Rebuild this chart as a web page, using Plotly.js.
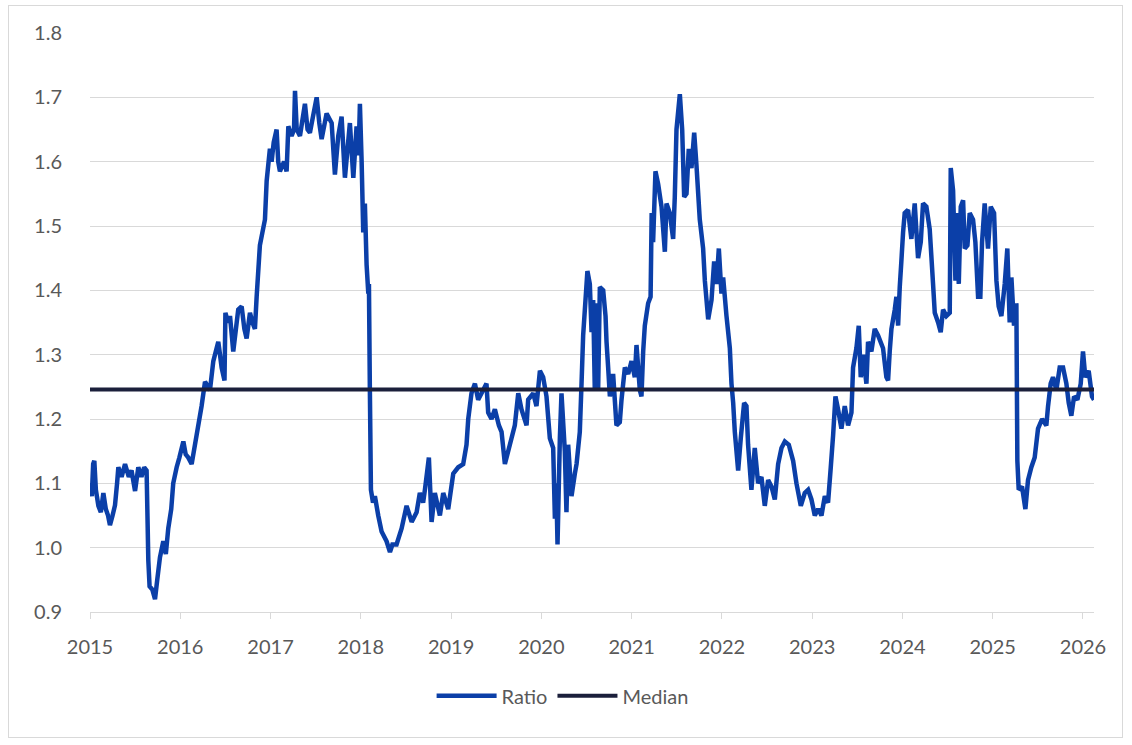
<!DOCTYPE html>
<html>
<head>
<meta charset="utf-8">
<script src="https://cdn.plot.ly/plotly-3.0.1.min.js"></script>
<style>
  html, body { margin: 0; padding: 0; background: #ffffff; }
  #wrap { position: relative; width: 1132px; height: 745px; }
  #chart { position: absolute; left: 0; top: 0; width: 1132px; height: 745px; }
  #frame { position: absolute; left: 8px; top: 5px; width: 1113px; height: 731px;
           border: 1px solid #d9d9d9; pointer-events: none; }
</style>
</head>
<body>
<div id="wrap"><div id="chart"></div><div id="frame"></div></div>
<script>
// Decimal-year dates of the readings
const dates = [
  2015.000, 2015.020, 2015.035, 2015.048, 2015.065, 2015.093, 2015.120, 2015.148, 2015.175, 2015.200,
  2015.221, 2015.250, 2015.277, 2015.300, 2015.314, 2015.350, 2015.388, 2015.430, 2015.460, 2015.499,
  2015.535, 2015.570, 2015.600, 2015.627, 2015.646, 2015.660, 2015.690, 2015.720, 2015.745, 2015.775,
  2015.812, 2015.840, 2015.867, 2015.900, 2015.922, 2015.960, 2015.990, 2016.034, 2016.060, 2016.089,
  2016.126, 2016.181, 2016.236, 2016.274, 2016.329, 2016.366, 2016.421, 2016.440, 2016.458, 2016.490,
  2016.500, 2016.530, 2016.551, 2016.587, 2016.625, 2016.642, 2016.680, 2016.710, 2016.735, 2016.772,
  2016.800, 2016.827, 2016.846, 2016.882, 2016.910, 2016.938, 2016.957, 2016.993, 2017.012, 2017.035,
  2017.067, 2017.085, 2017.104, 2017.150, 2017.178, 2017.197, 2017.233, 2017.260, 2017.271, 2017.290,
  2017.326, 2017.381, 2017.410, 2017.436, 2017.470, 2017.511, 2017.540, 2017.566, 2017.621, 2017.677,
  2017.713, 2017.750, 2017.787, 2017.824, 2017.879, 2017.917, 2017.953, 2017.975, 2017.990, 2018.009,
  2018.027, 2018.045, 2018.064, 2018.083, 2018.090, 2018.100, 2018.112, 2018.135, 2018.156, 2018.193,
  2018.230, 2018.285, 2018.323, 2018.350, 2018.396, 2018.452, 2018.507, 2018.563, 2018.618, 2018.654,
  2018.690, 2018.710, 2018.754, 2018.784, 2018.820, 2018.876, 2018.913, 2018.968, 2019.024, 2019.079,
  2019.134, 2019.171, 2019.190, 2019.226, 2019.264, 2019.300, 2019.356, 2019.392, 2019.411, 2019.448,
  2019.485, 2019.530, 2019.559, 2019.596, 2019.651, 2019.706, 2019.744, 2019.780, 2019.836, 2019.854,
  2019.910, 2019.946, 2019.984, 2020.020, 2020.057, 2020.094, 2020.131, 2020.150, 2020.165, 2020.179,
  2020.205, 2020.223, 2020.260, 2020.278, 2020.297, 2020.334, 2020.371, 2020.390, 2020.426, 2020.445,
  2020.463, 2020.510, 2020.537, 2020.556, 2020.574, 2020.592, 2020.611, 2020.629, 2020.648, 2020.685,
  2020.711, 2020.722, 2020.740, 2020.759, 2020.795, 2020.832, 2020.869, 2020.888, 2020.925, 2020.962,
  2020.999, 2021.035, 2021.054, 2021.091, 2021.109, 2021.128, 2021.146, 2021.183, 2021.210, 2021.222,
  2021.238, 2021.264, 2021.294, 2021.331, 2021.368, 2021.386, 2021.423, 2021.460, 2021.478, 2021.497,
  2021.534, 2021.560, 2021.582, 2021.608, 2021.633, 2021.663, 2021.693, 2021.718, 2021.755, 2021.792,
  2021.811, 2021.848, 2021.885, 2021.914, 2021.940, 2021.966, 2021.995, 2022.014, 2022.051, 2022.088,
  2022.106, 2022.125, 2022.143, 2022.180, 2022.209, 2022.246, 2022.272, 2022.290, 2022.327, 2022.364,
  2022.401, 2022.438, 2022.475, 2022.512, 2022.549, 2022.586, 2022.623, 2022.660, 2022.697, 2022.741,
  2022.789, 2022.826, 2022.874, 2022.918, 2022.955, 2022.992, 2023.029, 2023.066, 2023.103, 2023.140,
  2023.176, 2023.206, 2023.232, 2023.258, 2023.287, 2023.324, 2023.361, 2023.398, 2023.435, 2023.453,
  2023.490, 2023.516, 2023.538, 2023.564, 2023.601, 2023.619, 2023.656, 2023.693, 2023.730, 2023.785,
  2023.822, 2023.841, 2023.859, 2023.878, 2023.915, 2023.933, 2023.952, 2023.970, 2023.988, 2024.007,
  2024.025, 2024.062, 2024.099, 2024.136, 2024.173, 2024.203, 2024.228, 2024.265, 2024.302, 2024.339,
  2024.358, 2024.395, 2024.424, 2024.450, 2024.487, 2024.524, 2024.535, 2024.561, 2024.587, 2024.605,
  2024.624, 2024.646, 2024.672, 2024.690, 2024.720, 2024.745, 2024.782, 2024.808, 2024.838, 2024.863,
  2024.882, 2024.911, 2024.948, 2024.978, 2025.015, 2025.041, 2025.066, 2025.096, 2025.133, 2025.162,
  2025.188, 2025.207, 2025.236, 2025.262, 2025.273, 2025.288, 2025.325, 2025.362, 2025.391, 2025.428,
  2025.465, 2025.502, 2025.547, 2025.594, 2025.613, 2025.642, 2025.668, 2025.705, 2025.742, 2025.779,
  2025.816, 2025.842, 2025.871, 2025.901, 2025.938, 2025.975, 2026.000, 2026.026, 2026.063, 2026.100,
  2026.122
];

// Ratio readings
const ratio = [
  1.100, 1.080, 1.130, 1.135, 1.090, 1.065, 1.055, 1.085, 1.060, 1.050,
  1.035, 1.050, 1.066, 1.100, 1.125, 1.110, 1.130, 1.110, 1.120, 1.088,
  1.125, 1.110, 1.125, 1.120, 0.980, 0.940, 0.935, 0.920, 0.950, 0.985,
  1.010, 0.990, 1.030, 1.060, 1.100, 1.125, 1.140, 1.165, 1.145, 1.140,
  1.130, 1.175, 1.220, 1.258, 1.245, 1.290, 1.320, 1.300, 1.280, 1.260,
  1.365, 1.350, 1.360, 1.305, 1.350, 1.370, 1.375, 1.340, 1.325, 1.365,
  1.350, 1.340, 1.390, 1.470, 1.490, 1.510, 1.570, 1.620, 1.600, 1.630,
  1.650, 1.600, 1.585, 1.600, 1.585, 1.655, 1.640, 1.650, 1.710, 1.650,
  1.640, 1.690, 1.650, 1.645, 1.670, 1.700, 1.660, 1.635, 1.675, 1.660,
  1.580, 1.640, 1.670, 1.575, 1.660, 1.575, 1.655, 1.610, 1.690, 1.600,
  1.490, 1.535, 1.440, 1.395, 1.410, 1.250, 1.090, 1.070, 1.080, 1.050,
  1.025, 1.010, 0.993, 1.005, 1.005, 1.030, 1.065, 1.040, 1.055, 1.085,
  1.070, 1.090, 1.140, 1.040, 1.085, 1.050, 1.085, 1.060, 1.115, 1.125,
  1.130, 1.160, 1.200, 1.240, 1.255, 1.230, 1.245, 1.255, 1.210, 1.200,
  1.215, 1.190, 1.180, 1.130, 1.160, 1.190, 1.240, 1.215, 1.190, 1.230,
  1.240, 1.220, 1.275, 1.265, 1.235, 1.170, 1.155, 1.045, 1.100, 1.005,
  1.170, 1.240, 1.150, 1.055, 1.160, 1.080, 1.115, 1.130, 1.180, 1.255,
  1.330, 1.430, 1.410, 1.335, 1.385, 1.245, 1.380, 1.245, 1.405, 1.400,
  1.360, 1.320, 1.280, 1.235, 1.270, 1.190, 1.195, 1.230, 1.280, 1.270,
  1.290, 1.265, 1.315, 1.245, 1.235, 1.305, 1.345, 1.380, 1.390, 1.520,
  1.475, 1.585, 1.565, 1.530, 1.460, 1.535, 1.520, 1.480, 1.545, 1.650,
  1.705, 1.650, 1.545, 1.550, 1.620, 1.590, 1.645, 1.595, 1.510, 1.465,
  1.415, 1.355, 1.385, 1.445, 1.410, 1.465, 1.395, 1.420, 1.360, 1.310,
  1.255, 1.225, 1.180, 1.120, 1.170, 1.225, 1.220, 1.160, 1.090, 1.155,
  1.100, 1.110, 1.065, 1.105, 1.095, 1.075, 1.130, 1.155, 1.165, 1.160,
  1.135, 1.100, 1.065, 1.085, 1.090, 1.075, 1.050, 1.060, 1.050, 1.080,
  1.070, 1.125, 1.175, 1.235, 1.215, 1.185, 1.220, 1.190, 1.210, 1.280,
  1.310, 1.345, 1.265, 1.300, 1.255, 1.320, 1.305, 1.340, 1.330, 1.310,
  1.265, 1.260, 1.305, 1.340, 1.370, 1.390, 1.345, 1.405, 1.445, 1.490,
  1.520, 1.525, 1.480, 1.535, 1.450, 1.475, 1.535, 1.530, 1.495, 1.410,
  1.365, 1.350, 1.335, 1.370, 1.360, 1.365, 1.590, 1.555, 1.415, 1.520,
  1.410, 1.530, 1.540, 1.465, 1.470, 1.520, 1.510, 1.475, 1.390, 1.390,
  1.475, 1.535, 1.465, 1.530, 1.520, 1.415, 1.375, 1.360, 1.410, 1.465,
  1.350, 1.420, 1.345, 1.380, 1.135, 1.090, 1.095, 1.060, 1.105, 1.125,
  1.140, 1.185, 1.200, 1.190, 1.220, 1.255, 1.265, 1.245, 1.280, 1.280,
  1.255, 1.225, 1.205, 1.235, 1.230, 1.255, 1.305, 1.265, 1.275, 1.235,
  1.230
];

const medianValue = 1.246;
const yearTicks = [2015, 2016, 2017, 2018, 2019, 2020, 2021, 2022, 2023, 2024, 2025, 2026];
const yTicks = [0.9, 1.0, 1.1, 1.2, 1.3, 1.4, 1.5, 1.6, 1.7, 1.8];
const seriesNames = ['Ratio', 'Median'];

const xStart = dates[0];
const xEnd = dates[dates.length - 1];

const FONT = 'Lato, "Open Sans", "Liberation Sans", sans-serif';
const GREY = '#595959';
const GRID = '#d9d9d9';

const traces = [
  {
    x: dates, y: ratio, type: 'scatter', mode: 'lines', name: seriesNames[0],
    line: { color: '#0b3fa8', width: 4.5, simplify: false }
  },
  {
    x: [xStart, xEnd], y: [medianValue, medianValue], type: 'scatter', mode: 'lines', name: seriesNames[1],
    line: { color: '#1b1f3b', width: 4 }
  }
];

const layout = {
  width: 1132, height: 745,
  margin: { l: 90, r: 38, t: 33, b: 133, pad: 0 },
  paper_bgcolor: '#ffffff', plot_bgcolor: '#ffffff',
  font: { family: FONT, size: 20, color: GREY },
  showlegend: true,
  legend: {
    orientation: 'h', xref: 'container', yref: 'container',
    x: 0.497, xanchor: 'center', y: 0.066, yanchor: 'middle',
    font: { family: FONT, size: 20, color: GREY },
    itemwidth: 60, tracegroupgap: 0, bgcolor: 'rgba(0,0,0,0)'
  },
  xaxis: {
    type: 'linear', range: [xStart, xEnd],
    tickmode: 'array', tickvals: yearTicks, ticktext: yearTicks.map(String),
    showgrid: false, zeroline: false,
    showline: true, linecolor: GRID, linewidth: 1,
    ticks: 'outside', ticklen: 6, tickcolor: GRID, tickwidth: 1,
    ticklabelstandoff: 11,
    tickfont: { family: FONT, size: 20, color: GREY }
  },
  yaxis: {
    range: [0.9, 1.8], tickmode: 'array', tickvals: yTicks,
    ticktext: yTicks.map(v => v.toFixed(1)),
    showgrid: true, gridcolor: GRID, gridwidth: 1,
    zeroline: false, showline: false, ticks: '',
    ticklabelstandoff: 27,
    tickfont: { family: FONT, size: 20, color: GREY }
  }
};

Plotly.newPlot('chart', traces, layout, { staticPlot: true, displayModeBar: false });
</script>
</body>
</html>
